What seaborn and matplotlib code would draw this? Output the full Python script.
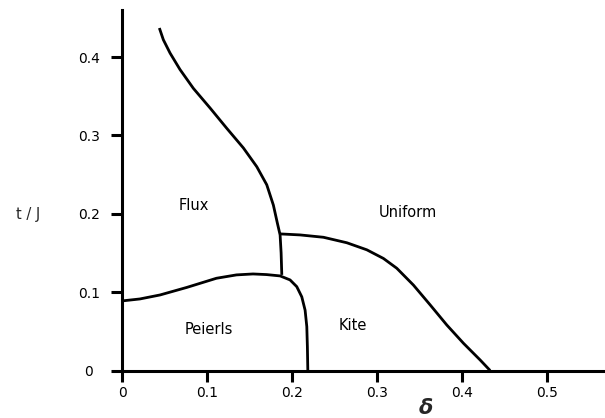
import matplotlib
matplotlib.use("Agg")
import matplotlib.pyplot as plt
import seaborn as sns
import pandas as pd

# Flux / Uniform boundary (top curve going down to the Peierls line)
flux_uniform_x = [0.0439, 0.0486, 0.0565, 0.0682, 0.0839, 0.1035, 0.1232, 0.1427,
                  0.1585, 0.1702, 0.178, 0.1827, 0.1859, 0.1871, 0.1879]
flux_uniform_y = [0.437, 0.422, 0.405, 0.384, 0.360, 0.335, 0.309, 0.284,
                  0.260, 0.237, 0.211, 0.188, 0.173, 0.150, 0.122]

# Flux / Peierls boundary continuing into Peierls / Kite boundary
peierls_x = [0.0, 0.021, 0.0447, 0.0761, 0.111, 0.1346, 0.1541, 0.170, 0.1859,
             0.1976, 0.2055, 0.2114, 0.2153, 0.2173, 0.218, 0.2185]
peierls_y = [0.0888, 0.0913, 0.0964, 0.106, 0.1177, 0.122, 0.1232, 0.1224, 0.1207,
             0.1156, 0.107, 0.094, 0.077, 0.056, 0.030, 0.0]

# Kite / Uniform boundary
uniform_x = [0.1859, 0.2094, 0.2369, 0.2644, 0.2879, 0.3074, 0.3231, 0.3427,
             0.3624, 0.382, 0.4016, 0.4212, 0.4329]
uniform_y = [0.1743, 0.173, 0.170, 0.163, 0.154, 0.143, 0.1305, 0.109,
             0.0837, 0.058, 0.0347, 0.0134, 0.0]

region_names = ["Flux", "Peierls", "Uniform", "Kite"]
region_x = [0.0847, 0.1024, 0.3357, 0.2712]
region_y = [0.211, 0.0517, 0.2018, 0.0568]

x_ticks = [0, 0.1, 0.2, 0.3, 0.4, 0.5]
x_ticklabels = ["0", "0.1", "0.2", "0.3", "0.4", "0.5"]
y_ticks = [0, 0.1, 0.2, 0.3, 0.4]
y_ticklabels = ["0", "0.1", "0.2", "0.3", "0.4"]

sns.set_style("white")
plt.rcParams["font.family"] = ["DejaVu Sans"]

fig = plt.figure(figsize=(6.05, 4.18), dpi=100)
ax = fig.add_axes([0.2017, 0.1136, 0.7983, 0.8625])

curves = [
    ("a", flux_uniform_x, flux_uniform_y),
    ("b", peierls_x, peierls_y),
    ("c", uniform_x, uniform_y),
]
for name, xs, ys in curves:
    df = pd.DataFrame({"x": xs, "y": ys})
    sns.lineplot(data=df, x="x", y="y", sort=False, estimator=None,
                 color="black", linewidth=2.0, ax=ax, legend=False,
                 solid_joinstyle="round", solid_capstyle="butt")

for name, x, y in zip(region_names, region_x, region_y):
    ax.text(x, y, name, ha="center", va="center", fontsize=10.5, color="black")

ax.set_xlim(0, 0.568)
ax.set_ylim(0, 0.46)
ax.set_xticks(x_ticks)
ax.set_xticklabels(x_ticklabels)
ax.set_yticks(y_ticks)
ax.set_yticklabels(y_ticklabels)

for side in ["top", "right"]:
    ax.spines[side].set_visible(False)
for side in ["left", "bottom"]:
    ax.spines[side].set_visible(True)
    ax.spines[side].set_color("black")
    ax.spines[side].set_linewidth(2.2)

ax.tick_params(axis="both", which="major", bottom=True, left=True,
               direction="out", length=8, width=2.2,
               color="black", labelsize=10, labelcolor="black")
ax.tick_params(axis="x", pad=3)
ax.tick_params(axis="y", pad=16)
for lbl in ax.get_yticklabels():
    lbl.set_horizontalalignment("center")

ax.set_xlabel("δ", fontsize=15, fontweight="bold", fontstyle="italic")
ax.xaxis.set_label_coords(0.629, -0.104)
ax.xaxis.label.set_va("center")
ax.set_ylabel("t / J", rotation=0, fontsize=10.5)
ax.yaxis.set_label_coords(-0.194, 0.434)
ax.yaxis.label.set_va("center")
ax.yaxis.label.set_ha("center")

ax.grid(False)
fig.savefig("out.png", dpi=100, facecolor="white")
